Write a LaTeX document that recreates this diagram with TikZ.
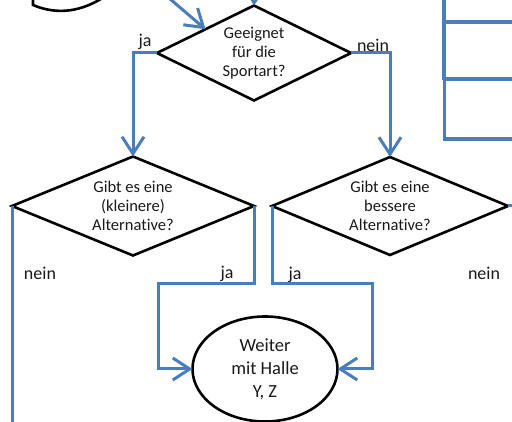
\documentclass[tikz,border=0pt]{standalone}
\usepackage{fontspec}
\setmainfont{Carlito}[Ligatures=NoCommon]
\usetikzlibrary{shapes.geometric,arrows.meta}
\definecolor{cblue}{RGB}{74,126,187}
\definecolor{ctext}{RGB}{25,25,25}
\tikzset{
  conn/.style={draw=cblue, line width=3pt},
  arr/.style={-{Straight Barb[length=17pt,width=22pt,line width=3pt]}},
  decision/.style={diamond, draw=black, line width=2.6pt, inner sep=0pt, outer sep=0pt, aspect=2.4,
    align=center, text=ctext, font=\fontsize{16.5}{19}\selectfont},
  endnode/.style={ellipse, draw=black, line width=2.6pt, inner sep=0pt, outer sep=0pt,
    minimum width=145pt, minimum height=105pt, align=center, text=ctext, font=\fontsize{18.5}{23}\selectfont},
  lbl/.style={anchor=base, text=ctext, font=\fontsize{18}{20}\selectfont, inner sep=0pt},
  boxline/.style={draw=cblue, line width=3.5pt}
}
\begin{document}
\begin{tikzpicture}[x=1pt,y=-1pt]
\useasboundingbox (0,0) rectangle (512,422);
\clip (0,0) rectangle (512,422);
% document shape (cut off)
\draw[black, line width=2.6pt] (33,-8) -- (33,5) .. controls (52,13) and (76,15) .. (104,-3);
% top right boxes
\draw[boxline] (444,-5) -- (444,80);
\draw[boxline] (444,22) -- (520,22);
\draw[boxline] (442.5,79) -- (520,79);
\draw[boxline] (444.5,79) -- (444.5,139) -- (520,139);
% nodes
\node[decision, minimum width=194pt, minimum height=95pt] (d1) at (254,53) {Geeignet\\für die\\Sportart?};
\node[decision, minimum width=242pt, minimum height=99pt] (d2) at (133,206) {Gibt es eine\\(kleinere)\\Alternative?};
\node[decision, minimum width=236pt, minimum height=98pt] (d3) at (390,206) {Gibt es eine\\bessere\\Alternative?};
\node[endnode] (e) at (265,369) {Weiter\\mit Halle\\Y, Z};
% coordinates
\coordinate (in1) at (255,-30);
\coordinate (in2) at (156,-13);
\coordinate (j1) at (158,284);
\coordinate (j2) at (372,284);
\coordinate (bot) at (0,430);
\coordinate (rgt) at (520,0);
% connectors
\draw[conn,arr] (in1) -- (d1.north);
\draw[conn,arr] (in2) -- (d1.north west);
\draw[conn,arr] (d1.west) -| (d2.north);
\draw[conn,arr] (d1.east) -| (d3.north);
\draw[conn] (d2.west) -- (d2.west |- bot);
\draw[conn,arr] (d2.east) -- (d2.east |- j1) -- (j1) |- (e.west);
\draw[conn,arr] (d3.west) -- (d3.west |- j2) -- (j2) |- (e.east);
\draw[conn] (d3.east) -- (d3.east -| rgt);
% labels
\node[lbl] (l1) at (145,47) {ja};
\node[lbl] (l2) at (373,52) {nein};
\node[lbl] (l3) at (40,280) {nein};
\node[lbl] (l4) at (227,279) {ja};
\node[lbl] (l5) at (295,280) {ja};
\node[lbl] (l6) at (484,280) {nein};
\end{tikzpicture}
\end{document}
